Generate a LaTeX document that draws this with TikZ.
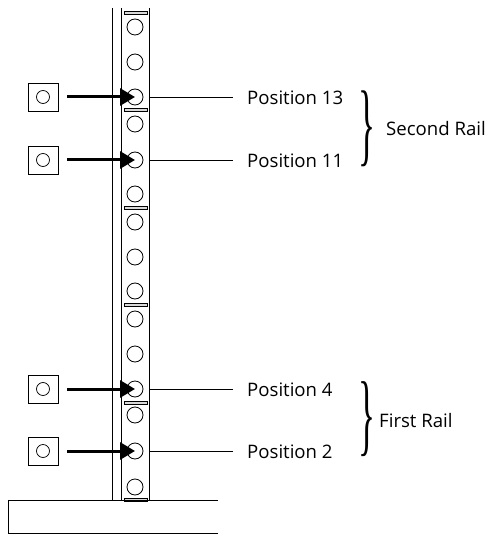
\documentclass[tikz,border=0pt]{standalone}
\usepackage{graphicx}
\usepackage{fontspec}
\setmainfont{Open Sans}
\newfontfamily\bracefont{Liberation Serif}
\usetikzlibrary{arrows.meta}
\begin{document}
\begin{tikzpicture}[x=1pt,y=-1pt,
 hole/.style={circle,draw,minimum size=16pt,inner sep=0pt,line width=0.8pt},
 sq/.style={draw,minimum width=30pt,minimum height=28pt,inner sep=0pt,line width=0.8pt},
 sqhole/.style={circle,draw,minimum size=13pt,inner sep=0pt,line width=0.7pt},
 bar/.style={draw,fill=gray!30,minimum width=23pt,minimum height=3.5pt,inner sep=0pt,line width=0.6pt},
 push/.style={line width=3pt,-{Triangle[length=15pt,width=17pt]},shorten <=9pt},
 leader/.style={line width=0.8pt,shorten <=15pt,shorten >=14pt},
 lbl/.style={anchor=base west,inner sep=0pt,font=\fontsize{18.6}{20}\selectfont},
 rail/.style={line width=0.9pt},
 curly/.style={inner sep=0pt}]
\useasboundingbox (0,0) rectangle (496,534);
% rack uprights
\draw[rail] (112,8) -- (112,500);
\draw[rail] (121,8) -- (121,500);
\draw[rail] (149,8) -- (149,500);
% separator bars
\foreach \y [count=\i] in {13,110,208,305,403,500}
  \node[bar] (b\i) at (135.5,\y) {};
% holes
\foreach \y [count=\i] in {27,62,97,124,160,194,222,257,291,319,354,389,415,451,487}
  \node[hole] (h\i) at (135,\y) {};
% base
\draw[rail] (218,500) -- (8,500) -- (8,533) -- (218,533);
% squares with holes
\foreach \n/\y in {1/97,2/160,3/389,4/451}{
  \node[sq] (s\n) at (43,\y) {};
  \node[sqhole] (sh\n) at (s\n.center) {};
}
% labels
\node[lbl] (p13) at (247,104.5) {Position 13};
\node[lbl] (p11) at (247,167.5) {Position 11};
\node[lbl] (p4) at (247,396.5) {Position 4};
\node[lbl] (p2) at (247,458.5) {Position 2};
\node[lbl] (sr) at (386,136) {Second Rail};
\node[lbl] (fr) at (379,427) {First Rail};
% arrows
\draw[push] (s1.east) -- (h3.center);
\draw[push] (s2.east) -- (h5.center);
\draw[push] (s3.east) -- (h12.center);
\draw[push] (s4.east) -- (h14.center);
% leaders
\draw[leader] (h3.center) -- (h3.center -| p13.west);
\draw[leader] (h5.center) -- (h5.center -| p11.west);
\draw[leader] (h12.center) -- (h12.center -| p4.west);
\draw[leader] (h14.center) -- (h14.center -| p2.west);
% braces
\node[curly] (br2) at (366.5,128.5) {\resizebox*{17pt}{76pt}{\bracefont\}}};
\node[curly] (br1) at (366.5,419) {\resizebox*{17pt}{75pt}{\bracefont\}}};
\end{tikzpicture}
\end{document}
